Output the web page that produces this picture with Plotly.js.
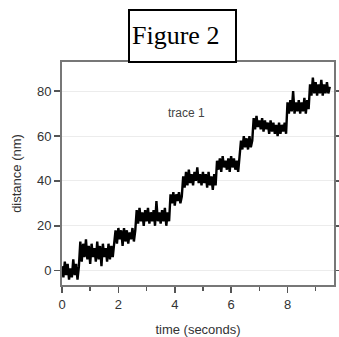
<!DOCTYPE html>
<html>
<head>
<meta charset="utf-8">
<script src="https://cdn.plot.ly/plotly-3.0.1.min.js"></script>
<style>html,body{margin:0;padding:0;background:#fff;}#chart{width:339px;height:337px;}</style>
</head>
<body>
<div id="chart"></div>
<script>
// Time samples (seconds)
const timeSeconds = [
0.00,0.05,0.10,0.15,0.20,0.25,0.30,0.35,0.40,0.45,0.50,0.55,0.60,
0.65,0.70,0.75,0.80,0.85,0.90,0.95,1.00,1.05,1.10,1.15,1.20,1.25,1.30,1.35,1.40,1.45,1.50,1.55,1.60,1.65,1.70,1.75,1.80,1.85,
1.90,1.95,2.00,2.05,2.10,2.15,2.20,2.25,2.30,2.35,2.40,2.45,2.50,2.55,2.60,
2.65,2.70,2.75,2.80,2.85,2.90,2.95,3.00,3.05,3.10,3.15,3.20,3.25,3.30,3.35,3.40,3.45,3.50,3.55,3.60,3.65,3.70,3.75,3.80,
3.85,3.90,3.95,4.00,4.05,4.10,4.15,4.20,4.25,
4.30,4.35,4.40,4.45,4.50,4.55,4.60,4.65,4.70,4.75,4.80,4.85,4.90,4.95,5.00,5.05,5.10,5.15,5.20,5.25,5.30,5.35,5.40,5.45,
5.50,5.55,5.60,5.65,5.70,5.75,5.80,5.85,5.90,5.95,6.00,6.05,6.10,6.15,6.20,6.25,6.30,
6.35,6.40,6.45,6.50,6.55,6.60,6.65,6.70,6.75,
6.80,6.85,6.90,6.95,7.00,7.05,7.10,7.15,7.20,7.25,7.30,7.35,7.40,7.45,7.50,7.55,7.60,7.65,7.70,7.75,7.80,7.85,7.90,7.95,
8.00,8.05,8.10,8.15,8.20,8.25,8.30,8.35,8.40,8.45,8.50,8.55,8.60,8.65,8.70,8.75,
8.80,8.85,8.90,8.95,9.00,9.05,9.10,9.15,9.20,9.25,9.30,9.35,9.40,9.45,9.50
];
// Distance (nm), read as the alternating high/low excursions of the noisy trace
const distanceNm = [
2,-3,4,-2,3,-4,1,-3,5,-2,3,-4,2,
13,4,12,6,14,5,11,3,12,6,10,4,13,5,11,2,12,6,10,4,12,5,11,6,12,
18,12,19,14,18,11,19,13,18,12,17,14,19,13,18,
27,21,28,22,26,20,27,22,28,21,26,22,27,20,31,22,26,21,27,22,28,20,26,22,
34,30,35,29,34,31,35,30,33,
42,37,44,38,45,39,43,38,44,40,46,39,43,38,44,39,43,37,44,38,42,36,43,38,
49,45,50,44,51,46,49,45,50,44,51,46,50,45,49,44,50,
58,54,60,55,59,54,60,55,58,
68,63,69,64,67,63,68,62,67,63,66,61,67,62,66,61,65,60,66,61,65,62,66,61,
75,70,76,71,80,70,75,71,76,70,75,71,77,70,76,72,
83,78,86,79,84,78,83,79,85,78,83,79,84,79,82
];
const xTicks = [0,2,4,6,8];
const xMinorTicks = [1,3,5,7,9];
const yTicks = [0,20,40,60,80];

const axisFont = {family:'"Liberation Sans", Arial, sans-serif', size:13, color:'#333'};

const trace = {
  x: timeSeconds, y: distanceNm, type:'scatter', mode:'lines',
  line:{color:'#000', width:2.4}, hoverinfo:'skip', showlegend:false
};

const layout = {
  width:339, height:337,
  margin:{l:62, r:5, t:62, b:52},
  paper_bgcolor:'#fff', plot_bgcolor:'#fff',
  showlegend:false,
  xaxis:{
    range:[0,9.65], tickvals:xTicks, ticktext:xTicks.map(String),
    ticks:'outside', ticklen:6, tickwidth:1.5, tickcolor:'#555',
    minor:{tickvals:xMinorTicks, ticks:'outside', ticklen:4, tickwidth:1.5, tickcolor:'#555', showgrid:false},
    showline:true, linecolor:'#777', linewidth:2, mirror:true,
    showgrid:false, zeroline:false, tickfont:axisFont,
    title:{text:'time (seconds)', font:axisFont, standoff:14}
  },
  yaxis:{
    range:[-6.4,93], tickvals:yTicks, ticktext:yTicks.map(String),
    ticks:'outside', ticklen:6, tickwidth:1.5, tickcolor:'#555',
    showline:true, linecolor:'#777', linewidth:2, mirror:'ticks',
    showgrid:true, gridcolor:'#ececec', gridwidth:1, zeroline:false, tickfont:axisFont,
    title:{text:'distance (nm)', font:axisFont, standoff:12}
  },
  annotations:[
    {text:' ', xref:'paper', yref:'paper', x:0.443, y:1.1166, xanchor:'center', yanchor:'middle',
     showarrow:false, font:{size:10, color:'#000'},
     bordercolor:'#000', borderwidth:2, borderpad:0, bgcolor:'#fff', width:105, height:50},
    {text:'Figure 2', xref:'paper', yref:'paper', x:0.419, y:1.1166, xanchor:'center', yanchor:'middle',
     showarrow:false, font:{family:'"Liberation Serif", "Times New Roman", serif', size:26, color:'#000'}},
    {text:'trace 1', xref:'x', yref:'y', x:4.43, y:70.2, showarrow:false,
     font:{family:'"Liberation Sans", Arial, sans-serif', size:12, color:'#444'}}
  ]
};

Plotly.newPlot('chart', [trace], layout, {staticPlot:true, displayModeBar:false});
</script>
</body>
</html>
